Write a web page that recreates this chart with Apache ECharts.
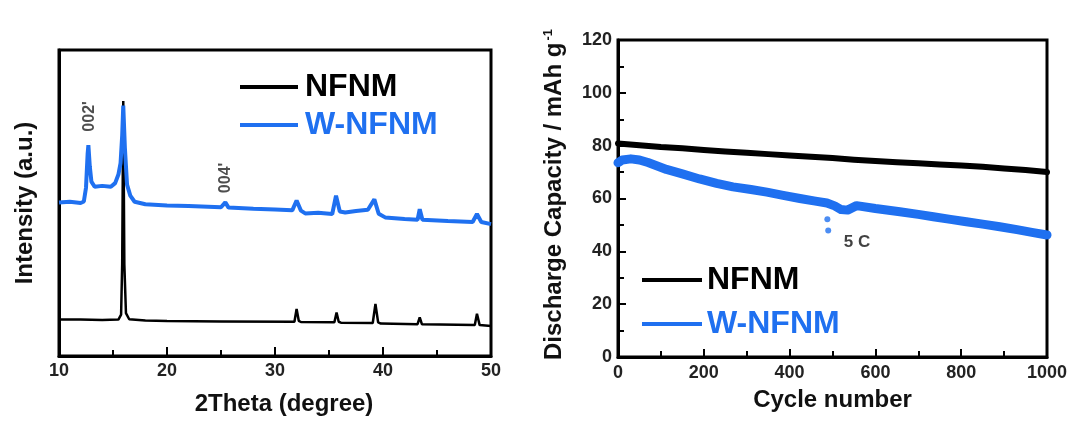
<!DOCTYPE html>
<html>
<head>
<meta charset="utf-8">
<script src="https://cdn.jsdelivr.net/npm/echarts@6/dist/echarts.min.js"></script>
<style>
html,body{margin:0;padding:0;background:#fff;}
#c{width:1071px;height:421px;}
</style>
</head>
<body>
<div id="c"></div>
<script>
// ---------- data ----------
const seriesNames = ['NFNM', 'W-NFNM'];

// XRD patterns [2theta, intensity (a.u.)]
const xrdNFNM = [
  [10,11.9],[12,11.9],[14,11.8],[15.5,11.9],[15.75,13.5],[15.85,30],[15.95,83.3],[16.05,30],[16.2,14],
  [16.5,12],[18,11.6],[20,11.4],[25,11.3],[31.8,11.2],[32.0,15.4],[32.2,11.5],[32.4,11.1],
  [35.5,11],[35.7,14.2],[35.9,11.2],[36.1,10.9],[39.05,10.8],[39.3,17],[39.55,11],[39.8,10.6],
  [43.2,10.4],[43.4,12.6],[43.6,10.4],[48.5,10.1],[48.7,13.8],[48.95,10.1],[50,9.8]
];
const xrdWNFNM = [
  [10,50.2],[11,50.4],[12,50],[12.3,50.5],[12.5,55],[12.65,66],[12.72,68.9],[12.85,62],[13.0,57],
  [13.3,55.3],[14,55.6],[14.8,55.3],[15.2,56.5],[15.5,59.3],[15.7,63],[15.85,72],[15.95,81.8],
  [16.1,68],[16.3,56],[16.6,52.4],[17,50.4],[18,49.6],[20,49.2],[22,49],[25,48.6],[25.4,50.2],
  [25.7,48.5],[28,48.1],[30,47.9],[31.6,47.6],[32.0,50.8],[32.4,47.5],[32.8,46.6],[34,46.8],
  [35.3,46.4],[35.65,52.4],[36.0,47.2],[36.5,46.9],[37.5,47.4],[38.6,47.8],[39.2,51.2],[39.6,46.5],
  [40.2,45.3],[42,44.8],[43.2,44.5],[43.4,48],[43.65,44.5],[46,44.1],[48.3,43.8],[48.7,46.4],
  [49.1,43.8],[50,43.1]
];
const xrdPeakLabels = [
  {name: "002'", value: [12.87, 78.3]},
  {name: "004'", value: [25.43, 58.2]}
];

// Cycling [cycle, discharge capacity mAh/g]
const cycNFNM = [
  [0,80.8],[50,80.2],[100,79.5],[150,79],[200,78.4],[250,77.8],[300,77.3],[350,76.8],[400,76.3],
  [450,75.8],[500,75.3],[550,74.7],[600,74.2],[650,73.7],[700,73.3],[750,72.9],[800,72.5],
  [850,72],[900,71.4],[950,70.8],[1000,70]
];
const cycWNFNM = [
  [0,73.5],[10,74.6],[30,75],[50,74.6],[70,73.6],[90,72.4],[113,71],[150,69.3],[190,67.4],
  [230,65.7],[268,64.4],[310,63.4],[347,62.4],[385,61.2],[424,60],[460,59],[487,58.3],[505,57.2],
  [520,55.8],[535,55.6],[556,57.3],[600,56.2],[657,55],[700,54],[735,53.1],[775,52.1],[812,51.2],
  [850,50.3],[890,49.3],[930,48.2],[968,47.1],[1000,46.2]
];
const cycOutliers = [[488,52.1],[490,47.9]];
const cycLabels = [{name: '5 C', value: [557, 43.6]}];

// ---------- style ----------
const BLUE = '#1f70f0';
const FONT = '"Liberation Sans", Arial, Helvetica, sans-serif';
const tickLabel = {fontSize: 18, fontWeight: 'bold', color: '#222', fontFamily: FONT, formatter: (v) => String(v)};
const titleStyle = {fontSize: 24, fontWeight: 'bold', color: '#111', fontFamily: FONT};
const axisLine = {show: true, lineStyle: {color: '#000', width: 3}};
const tick = (len) => ({show: true, inside: true, length: len, lineStyle: {color: '#000', width: 2}});
const minor = (len) => ({show: true, splitNumber: 2, length: len, lineStyle: {color: '#000', width: 2}});
const hidden = {color: 'rgba(0,0,0,0)'};

const chart = echarts.init(document.getElementById('c'), null, {renderer: 'canvas'});
chart.setOption({
  animation: false,
  backgroundColor: '#fff',
  grid: [
    {left: 59, top: 50, width: 432, height: 311, show: true, borderColor: '#000', borderWidth: 3, containLabel: false},
    {left: 618, top: 40, width: 429, height: 317, show: true, borderColor: '#000', borderWidth: 3, containLabel: false}
  ],
  xAxis: [
    {gridIndex: 0, type: 'value', min: 10, max: 50, interval: 10,
     axisLine, axisTick: tick(9), minorTick: minor(6),
     splitLine: {show: false}, minorSplitLine: {show: false},
     axisLabel: Object.assign({margin: 6}, tickLabel),
     name: '2Theta (degree)', nameLocation: 'middle', nameGap: 36,
     nameTextStyle: Object.assign({padding: [0, 0, 0, 18]}, titleStyle)},
    {gridIndex: 1, type: 'value', min: 0, max: 1000, interval: 200,
     axisLine, axisTick: tick(8), minorTick: minor(6),
     splitLine: {show: false}, minorSplitLine: {show: false},
     axisLabel: Object.assign({margin: 7}, tickLabel),
     name: 'Cycle number', nameLocation: 'middle', nameGap: 31,
     nameTextStyle: titleStyle}
  ],
  yAxis: [
    {gridIndex: 0, type: 'value', min: 0, max: 100,
     axisLine, axisTick: {show: false}, axisLabel: {show: false}, splitLine: {show: false},
     name: 'Intensity (a.u.)', nameLocation: 'middle', nameGap: 22,
     nameTextStyle: titleStyle},
    {gridIndex: 1, type: 'value', min: 0, max: 120, interval: 20,
     axisLine, axisTick: tick(8), minorTick: minor(6),
     splitLine: {show: false}, minorSplitLine: {show: false},
     axisLabel: Object.assign({margin: 6}, tickLabel),
     name: 'Discharge Capacity / mAh g{sup|-1}', nameLocation: 'middle', nameGap: 52,
     nameTextStyle: Object.assign({}, titleStyle, {fontSize: 24, padding: [0, 0, 0, 8], rich: {sup: {fontSize: 13, fontWeight: 'bold', color: '#111', fontFamily: FONT, verticalAlign: 'top', padding: [0, 0, 10, 2]}}})}
  ],
  legend: [
    {left: 235, top: 66, orient: 'vertical', icon: 'rect', itemWidth: 58, itemHeight: 4, itemGap: 6,
     selectedMode: false,
     data: [{name: seriesNames[0], textStyle: {color: '#000'}}, {name: seriesNames[1], textStyle: {color: BLUE}}],
     textStyle: {fontSize: 32, fontWeight: 'bold', fontFamily: FONT, lineHeight: 32, padding: [0, 0, 0, 2]}},
    {left: 637, top: 259, orient: 'vertical', icon: 'rect', itemWidth: 60, itemHeight: 4, itemGap: 12,
     selectedMode: false,
     data: [{name: seriesNames[0], textStyle: {color: '#000'}}, {name: seriesNames[1], textStyle: {color: BLUE}}],
     textStyle: {fontSize: 32, fontWeight: 'bold', fontFamily: FONT, lineHeight: 32, padding: [0, 0, 0, 0]}}
  ],
  series: [
    {name: seriesNames[0], type: 'line', xAxisIndex: 0, yAxisIndex: 0, data: xrdNFNM,
     showSymbol: false, color: '#000', lineStyle: {color: '#000', width: 2.5}},
    {name: seriesNames[1], type: 'line', xAxisIndex: 0, yAxisIndex: 0, data: xrdWNFNM,
     showSymbol: false, color: BLUE, lineStyle: {color: BLUE, width: 4}},
    {type: 'scatter', xAxisIndex: 0, yAxisIndex: 0, data: xrdPeakLabels, symbolSize: 2,
     itemStyle: hidden, silent: true, z: 5,
     label: {show: true, formatter: '{b}', rotate: 90, position: 'inside', fontSize: 16, fontWeight: 'bold', color: '#222', fontFamily: FONT}},
    {name: seriesNames[0], type: 'line', xAxisIndex: 1, yAxisIndex: 1, data: cycNFNM,
     showSymbol: false, color: '#000', lineStyle: {color: '#000', width: 6, cap: 'round', join: 'round'}},
    {name: seriesNames[1], type: 'line', xAxisIndex: 1, yAxisIndex: 1, data: cycWNFNM,
     showSymbol: false, color: BLUE, lineStyle: {color: BLUE, width: 9, cap: 'round', join: 'round'}},
    {type: 'scatter', xAxisIndex: 1, yAxisIndex: 1, data: cycOutliers, symbolSize: 6,
     itemStyle: {color: BLUE}, silent: true},
    {type: 'scatter', xAxisIndex: 1, yAxisIndex: 1, data: cycLabels, symbolSize: 2,
     itemStyle: hidden, silent: true, z: 5,
     label: {show: true, formatter: '{b}', position: 'inside', fontSize: 17, fontWeight: 'bold', color: '#111', fontFamily: FONT}}
  ]
});
</script>
</body>
</html>
